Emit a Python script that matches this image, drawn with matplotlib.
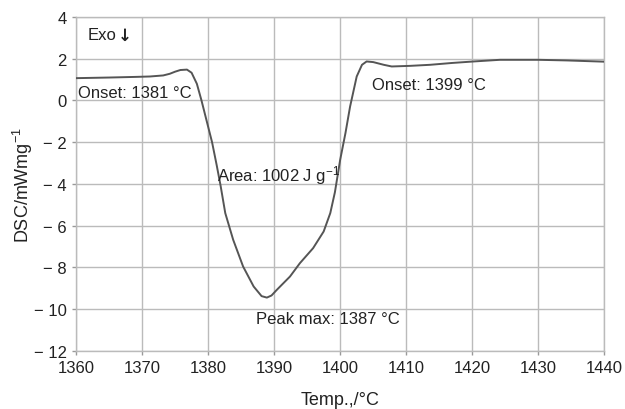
import matplotlib
matplotlib.use("Agg")
import matplotlib.pyplot as plt
from matplotlib.ticker import FuncFormatter

temp = [1360, 1365, 1369, 1371.2, 1373.2, 1374.2, 1375.0, 1375.8, 1376.8, 1377.5, 1378.3,
        1379.0, 1379.8, 1380.6, 1381.3, 1381.9, 1382.6, 1383.8, 1385.3, 1386.9,
        1388.1, 1388.9, 1389.6, 1390.4, 1392.4, 1393.9, 1395.9, 1397.5, 1398.5,
        1399.2, 1400.0, 1400.8, 1401.5, 1402.5, 1403.3, 1404.0, 1405.0, 1406.6,
        1407.8, 1410.6, 1413.6, 1417.0, 1420.2, 1424.2, 1430.0, 1434.3, 1440.0]
dsc = [1.07, 1.10, 1.13, 1.15, 1.20, 1.28, 1.38, 1.46, 1.48, 1.33, 0.80,
       0.00, -1.00, -2.00, -3.10, -4.10, -5.40, -6.68, -7.96, -8.92,
       -9.38, -9.45, -9.35, -9.08, -8.44, -7.80, -7.08, -6.28, -5.40,
       -4.40, -2.84, -1.56, -0.29, 1.15, 1.71, 1.87, 1.84, 1.71,
       1.63, 1.66, 1.71, 1.80, 1.87, 1.95, 1.95, 1.92, 1.86]

x_ticks = [1360, 1370, 1380, 1390, 1400, 1410, 1420, 1430, 1440]
y_ticks = [4, 2, 0, -2, -4, -6, -8, -10, -12]

annotations = [
    ("Onset: 1381 °C", 1360.35, 0.38),
    ("Onset: 1399 °C", 1404.8, 0.75),
    ("Area: 1002 J g$^{-1}$", 1381.3, -3.56),
    ("Peak max: 1387 °C", 1387.2, -10.44),
]

plt.rcParams['font.family'] = ['Liberation Sans', 'DejaVu Sans']
plt.rcParams['mathtext.fontset'] = 'custom'
plt.rcParams['mathtext.rm'] = 'Liberation Sans'
plt.rcParams['mathtext.it'] = 'Liberation Sans:italic'

fig = plt.figure(figsize=(6.25, 4.1), dpi=100)
ax = fig.add_axes([0.1216, 0.142, 0.967 - 0.1216, 0.956 - 0.142])

ax.plot(temp, dsc, color='#555555', lw=1.4, zorder=3, solid_joinstyle='round')

ax.set_xlim(1360, 1440)
ax.set_ylim(-12, 4)
ax.set_xticks(x_ticks)
ax.set_yticks(y_ticks)
ax.yaxis.set_major_formatter(FuncFormatter(lambda v, p: f"\u2212 {abs(int(v))}" if v < 0 else f"{int(v)}"))
ax.grid(True, color='#bbbbbb', lw=1.0)
for s in ax.spines.values():
    s.set_color('#bbbbbb')
    s.set_linewidth(1.0)
ax.tick_params(axis='both', colors='#999999', labelcolor='#222222', labelsize=12, length=3, width=1)

ax.set_xlabel("Temp.,/°C", fontsize=13, color='#222222', labelpad=12)
ax.set_ylabel("DSC/mWmg$^{-1}$", fontsize=13, color='#222222', labelpad=-1)

for txt, x, y in annotations:
    ax.text(x, y, txt, fontsize=12, color='#222222', ha='left', va='center', zorder=4)

ax.text(1361.8, 3.15, "Exo", fontsize=12, color='#222222', ha='left', va='center')
ax.text(1366.4, 3.15, "\u2193", fontsize=12, fontweight='bold', color='#222222',
        ha='left', va='center', family=['DejaVu Sans'])

fig.savefig("out.png", dpi=100)
